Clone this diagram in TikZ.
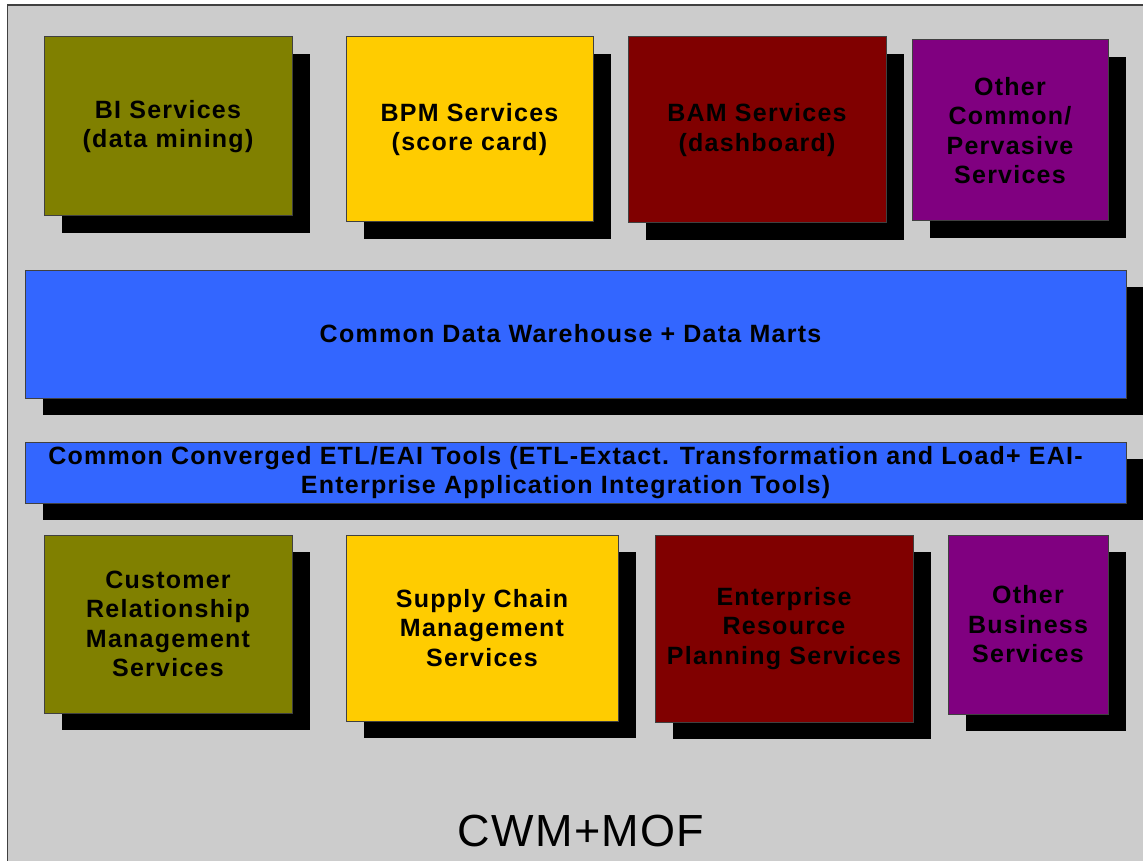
\documentclass[tikz,border=0pt]{standalone}
\usepackage{fontspec}
\setmainfont{Liberation Sans}
\newfontfamily\boxfont[LetterSpace=5]{Liberation Sans}
\newfontfamily\capfont[LetterSpace=3]{Liberation Sans}
\usetikzlibrary{shadows}
\definecolor{panelgray}{HTML}{CCCCCC}
\definecolor{edgegray}{HTML}{404040}
\definecolor{olivebox}{HTML}{808000}
\definecolor{yellowbox}{HTML}{FFCC00}
\definecolor{maroonbox}{HTML}{800000}
\definecolor{purplebox}{HTML}{800080}
\definecolor{bluebox}{HTML}{3366FF}
\tikzset{
  svcbox/.style={draw=edgegray, line width=1pt, inner sep=0pt, align=center,
    font=\boxfont\fontsize{25}{29.5}\selectfont\bfseries, text=black,
    drop shadow={shadow xshift=18pt, shadow yshift=-17pt, fill=black, opacity=1}},
}
\begin{document}
\begin{tikzpicture}[x=1pt,y=-1pt]
\useasboundingbox (0,0) rectangle (1143,861);
\fill[white] (0,0) rectangle (1143,861);
\filldraw[fill=panelgray, draw=edgegray, line width=1.5pt] (7.5,5) rectangle (1150,870);
% top row
\node[svcbox, fill=olivebox, minimum width=248pt, minimum height=179pt] (bi) at (168,126.5) {BI Services\\(data mining)};
\node[svcbox, fill=yellowbox, minimum width=247pt, minimum height=185pt] (bpm) at (469.5,129.5) {BPM Services\\(score card)};
\node[svcbox, fill=maroonbox, minimum width=258pt, minimum height=186pt] (bam) at (757,130) {BAM Services\\(dashboard)};
\node[svcbox, fill=purplebox, minimum width=196pt, minimum height=181pt] (oc) at (1010,130.5) {Other\\Common/\\Pervasive\\Services};
% bars
\node[svcbox, fill=bluebox, minimum width=1101pt, minimum height=128pt] (cdw) at (575.5,334) {Common Data Warehouse + Data Marts\hspace*{10pt}};
\node[svcbox, fill=bluebox, minimum width=1101pt, minimum height=61pt] (etl) at (575.5,472.5) {Common Converged ETL/EAI Tools (ETL-Extact. Transformation and Load+ EAI-\hspace*{20pt}\\Enterprise Application Integration Tools)\hspace*{20pt}};
% bottom row
\node[svcbox, fill=olivebox, minimum width=248pt, minimum height=178pt] (crm) at (168,624) {Customer\\Relationship\\Management\\Services};
\node[svcbox, fill=yellowbox, minimum width=272pt, minimum height=186pt] (scm) at (482,628) {Supply Chain\\Management\\Services};
\node[svcbox, fill=maroonbox, minimum width=258pt, minimum height=187pt] (erp) at (784,628.5) {Enterprise\\Resource\\Planning Services};
\node[svcbox, fill=purplebox, minimum width=160pt, minimum height=179pt] (ob) at (1028,624.5) {Other\\Business\\Services};
% caption
\node[font=\capfont\fontsize{45}{50}\selectfont, text=black] (cwm) at (581,831) {CWM+MOF};
\end{tikzpicture}
\end{document}
